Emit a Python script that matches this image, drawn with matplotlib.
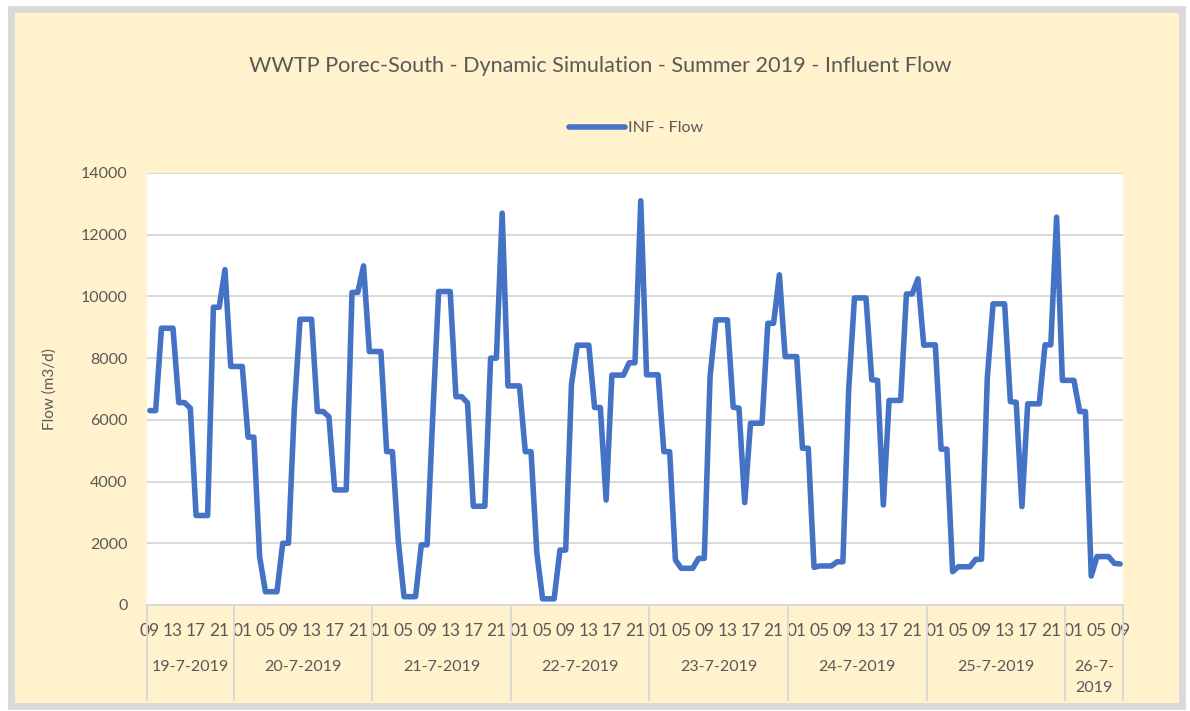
import matplotlib.pyplot as plt
from matplotlib.patches import Rectangle
from matplotlib.transforms import blended_transform_factory

plt.rcParams['font.family'] = ['Lato', 'DejaVu Sans']

# hourly influent flow (m3/d), one list per day
start_hour = 9
dates = ['19-7-2019', '20-7-2019', '21-7-2019', '22-7-2019',
         '23-7-2019', '24-7-2019', '25-7-2019', '26-7-\n2019']
flow_19 = [6300, 6300, 8970, 8970, 8970, 6560, 6560, 6380, 2900, 2900, 2900,
           9650, 9650, 10870, 7730]
flow_20 = [7730, 7730, 5440, 5440, 1570, 430, 430, 430, 2000, 2000, 6320, 9260,
           9260, 9260, 6270, 6270, 6100, 3730, 3730, 3730, 10130, 10130, 10990, 8215]
flow_21 = [8215, 8215, 4970, 4970, 2100, 270, 270, 270, 1950, 1950, 6200, 10160,
           10160, 10160, 6750, 6750, 6550, 3200, 3200, 3200, 8000, 8000, 12700, 7100]
flow_22 = [7100, 7100, 4970, 4970, 1700, 200, 200, 200, 1780, 1780, 7150, 8420,
           8420, 8420, 6400, 6400, 3400, 7450, 7450, 7450, 7850, 7850, 13100, 7460]
flow_23 = [7460, 7460, 4970, 4970, 1460, 1190, 1190, 1190, 1510, 1510, 7400, 9240,
           9240, 9240, 6410, 6380, 3320, 5890, 5890, 5890, 9130, 9130, 10700, 8050]
flow_24 = [8050, 8050, 5080, 5080, 1220, 1265, 1265, 1265, 1400, 1400, 6970, 9950,
           9950, 9950, 7300, 7280, 3240, 6630, 6630, 6630, 10080, 10080, 10570, 8420]
flow_25 = [8430, 8430, 5050, 5050, 1080, 1240, 1240, 1240, 1480, 1480, 7350, 9760,
           9760, 9760, 6590, 6570, 3190, 6520, 6520, 6520, 8430, 8430, 12570, 7280]
flow_26 = [7280, 7280, 6270, 6270, 940, 1570, 1570, 1570, 1350, 1330]

days = [flow_19, flow_20, flow_21, flow_22, flow_23, flow_24, flow_25, flow_26]
flow = [v for d in days for v in d]
x = list(range(len(flow)))
hours = [(start_hour + i) % 24 for i in x]

txt = '#595959'
grid = '#D9D9D9'

fig = plt.figure(figsize=(11.9, 7.11), dpi=100, facecolor='white')
W, H = 1190, 711
fig.patches.append(Rectangle((10.5 / W, 1 - 705.5 / H), 1171.5 / W, 697 / H,
                             transform=fig.transFigure, facecolor='#FFF2CC',
                             edgecolor=grid, linewidth=5, zorder=-10))

ax = fig.add_axes([147 / W, 1 - 605 / H, (1123 - 147) / W, 432 / H])
ax.set_facecolor('white')
ax.plot(x, flow, color='#4472C4', linewidth=4, solid_joinstyle='round',
        solid_capstyle='round', label='INF - Flow', zorder=3)

ax.set_xlim(-0.5, len(flow) - 0.5)
ax.set_ylim(0, 14000)
ax.set_yticks(range(0, 14001, 2000))
ax.grid(axis='y', color=grid, linewidth=1.4)
ax.set_axisbelow(True)
for s in ['top', 'right', 'left']:
    ax.spines[s].set_visible(False)
ax.spines['bottom'].set_color(grid)
ax.spines['bottom'].set_linewidth(1.4)
ax.tick_params(axis='y', length=0, pad=14, labelsize=11.5, labelcolor=txt)

ticks = x[::4]
ax.set_xticks(ticks)
ax.set_xticklabels([f'{hours[i]:02d}' for i in ticks])
ax.tick_params(axis='x', length=0, pad=13, labelsize=12.5, labelcolor=txt)

# date level with separators
tr = blended_transform_factory(ax.transData, ax.transAxes)
pos = -0.5
for d, lab in zip(days, dates):
    ax.plot([pos, pos], [0, -95 / 432], transform=tr, color=grid,
            linewidth=1.4, clip_on=False)
    ax.text(pos + len(d) / 2, -55 / 432, lab, transform=tr, ha='center',
            va='top', fontsize=11.5, color=txt, linespacing=1.6)
    pos += len(d)
ax.plot([pos, pos], [0, -95 / 432], transform=tr, color=grid,
        linewidth=1.4, clip_on=False)

ax.set_ylabel('Flow (m3/d)', fontsize=11, color=txt)
ax.yaxis.set_label_coords(-90 / 976, 0.5)

fig.text(600 / W, 1 - 66 / H,
         'WWTP Porec-South - Dynamic Simulation - Summer 2019 - Influent Flow',
         ha='center', va='center', fontsize=15.6, color=txt)
fig.legend(loc='center', bbox_to_anchor=(636 / W, 1 - 128 / H), frameon=False,
           fontsize=11.6, labelcolor=txt, handlelength=3.5, handletextpad=0.2)

fig.savefig('out.png', dpi=100, facecolor=fig.get_facecolor())
